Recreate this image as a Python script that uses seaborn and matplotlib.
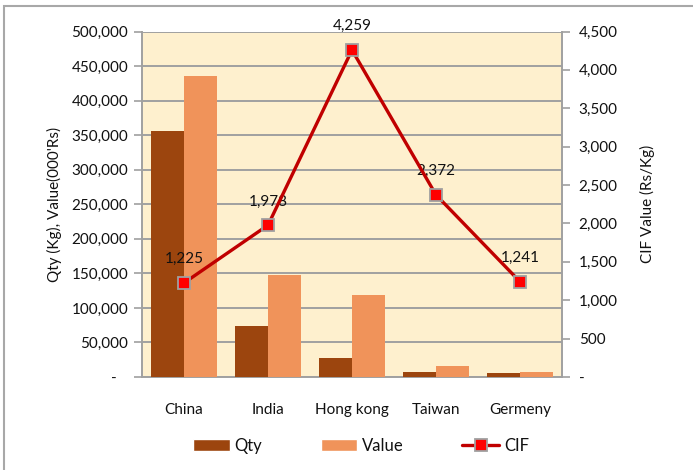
import matplotlib
matplotlib.use("Agg")
import matplotlib.pyplot as plt
from matplotlib.patches import Patch, Rectangle
from matplotlib.lines import Line2D
from matplotlib.ticker import FuncFormatter, MultipleLocator, FixedLocator, NullFormatter
import numpy as np
import pandas as pd
import seaborn as sns

# Import data by country of origin
countries = ["China", "India", "Hong kong", "Taiwan", "Germeny"]
qty_kg = [355500, 74500, 27700, 6800, 5500]
value_000rs = [435500, 147400, 118000, 16100, 6800]
cif_rs_per_kg = [1225, 1978, 4259, 2372, 1241]

series_names = ["Qty", "Value"]
bar_colors = ["#9C450E", "#F0935A"]
line_color = "#C00000"
marker_color = "#FF0000"
bg_color = "#FEF0CE"
grid_color = "#A0A0A0"
text_color = "#111111"

sns.set_theme(style="white")
plt.rcParams["font.family"] = ["Lato", "DejaVu Sans"]
plt.rcParams["text.color"] = text_color
plt.rcParams["axes.labelcolor"] = text_color
plt.rcParams["xtick.color"] = text_color
plt.rcParams["ytick.color"] = text_color

df = pd.DataFrame({
    "Country": countries * 2,
    "Series": [series_names[0]] * len(countries) + [series_names[1]] * len(countries),
    "Amount": qty_kg + value_000rs,
})

fig = plt.figure(figsize=(6.93, 4.70), dpi=100)
fig.patch.set_facecolor("white")
# outer chart frame
fig.patches.append(Rectangle((4 / 693, -0.1), 1.2, (1 - 6 / 470) + 0.1,
                             transform=fig.transFigure, fill=False,
                             edgecolor="#A8A8A8", linewidth=1.5, zorder=-5))

ax = fig.add_axes([142 / 693, 1 - 377 / 470, 420 / 693, 345.5 / 470])
ax.set_facecolor(bg_color)

sns.barplot(data=df, x="Country", y="Amount", hue="Series",
            palette=bar_colors, width=0.79, saturation=1, ax=ax,
            legend=False, zorder=3, edgecolor="none", linewidth=0)

ax.set_ylim(0, 500000)
ax.yaxis.set_major_locator(MultipleLocator(50000))
ax.yaxis.set_major_formatter(FuncFormatter(lambda v, p: "-   " if v == 0 else f"{v:,.0f}"))
ax.grid(axis="y", color=grid_color, linewidth=1.4, zorder=0)
ax.set_axisbelow(True)
ax.set_xlim(-0.5, len(countries) - 0.5)

# category separators as ticks below the axis
ax.xaxis.set_minor_locator(FixedLocator(np.arange(len(countries) + 1) - 0.5))
ax.xaxis.set_minor_formatter(NullFormatter())
ax.tick_params(axis="x", which="minor", length=7, width=1.2, color=grid_color, direction="out")
ax.tick_params(axis="x", which="major", length=0, pad=19, labelsize=11)
ax.tick_params(axis="y", which="major", length=6, width=1.2, color=grid_color,
               direction="out", labelsize=11, left=True, pad=4)

for side in ["top", "right"]:
    ax.spines[side].set_visible(False)
for side in ["left", "bottom"]:
    ax.spines[side].set_color(grid_color)
    ax.spines[side].set_linewidth(1.4)

ax.set_xlabel("")
ax.set_ylabel("Qty (Kg), Value(000'Rs)", fontsize=11, labelpad=7)

ax2 = ax.twinx()
sns.pointplot(x=countries, y=cif_rs_per_kg, ax=ax2, color=line_color,
              markers="s", linestyles="-", linewidth=2.4,
              markersize=8.5, markerfacecolor=marker_color,
              markeredgecolor="#A0A0A0", markeredgewidth=1.3, zorder=5)
ax2.set_xlim(-0.5, len(countries) - 0.5)
ax2.set_ylim(0, 4500)
ax2.yaxis.set_major_locator(MultipleLocator(500))
ax2.yaxis.set_major_formatter(FuncFormatter(lambda v, p: "-" if v == 0 else f"{v:,.0f}"))
ax2.tick_params(axis="y", which="major", length=6, width=1.2, color=grid_color,
                direction="out", labelsize=11, right=True, pad=6)
ax2.set_ylabel("CIF Value (Rs/Kg)", fontsize=11, labelpad=16)
for side in ["top", "left", "bottom"]:
    ax2.spines[side].set_visible(False)
ax2.spines["right"].set_color(grid_color)
ax2.spines["right"].set_linewidth(1.4)
ax2.grid(False)

for i, v in enumerate(cif_rs_per_kg):
    ax2.annotate(f"{v:,}", (i, v), xytext=(0, 12), textcoords="offset points",
                 ha="center", va="bottom", fontsize=11, color=text_color)

handles = [
    Patch(facecolor=bar_colors[0], label=series_names[0]),
    Patch(facecolor=bar_colors[1], label=series_names[1]),
    Line2D([0], [0], color=line_color, linewidth=2.4, marker="s", markersize=8.5,
           markerfacecolor=marker_color, markeredgecolor="#A0A0A0",
           markeredgewidth=1.3, label="CIF"),
]
fig.legend(handles=handles, loc="center", bbox_to_anchor=(361 / 693, 1 - 446 / 470),
           ncol=3, frameon=False, fontsize=12, handlelength=2.2,
           handleheight=0.7, handletextpad=0.3, columnspacing=3.5)

fig.savefig("out.png", dpi=100, facecolor="white")
